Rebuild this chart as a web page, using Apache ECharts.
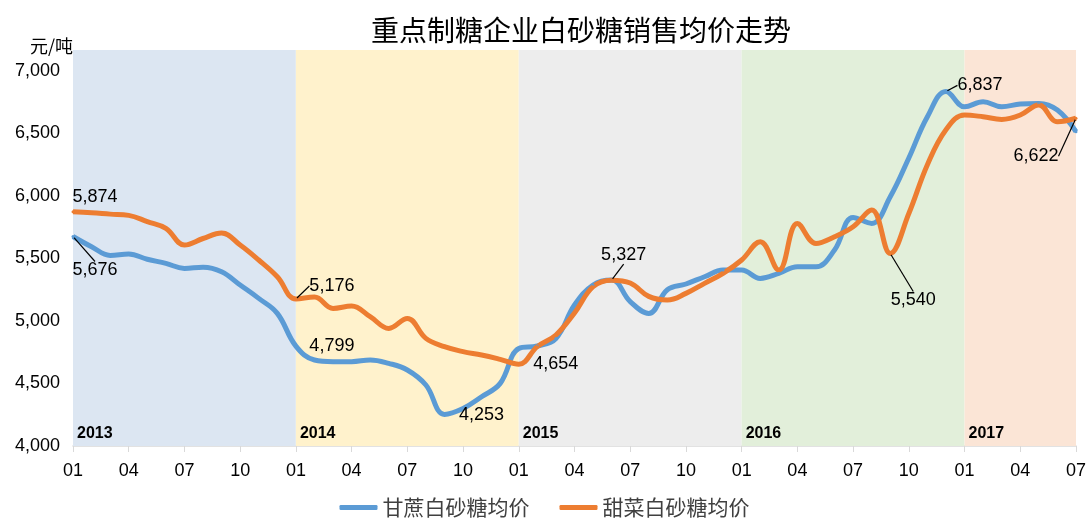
<!DOCTYPE html>
<html>
<head>
<meta charset="utf-8">
<title>重点制糖企业白砂糖销售均价走势</title>
<script src="https://cdn.jsdelivr.net/npm/echarts@6/dist/echarts.min.js"></script>
<style>
  html, body { margin: 0; padding: 0; background: #fff; }
  #chart { width: 1089px; height: 518px; }
</style>
</head>
<body>
<div id="chart"></div>
<script>
// months 2013-01 .. 2017-07
const years = ['2013', '2014', '2015', '2016', '2017'];
const monthLabels = ['01', '02', '03', '04', '05', '06', '07', '08', '09', '10', '11', '12'];
const months = [];
years.forEach(y => {
    const last = y === '2017' ? 7 : 12;
    for (let m = 0; m < last; m++) months.push(y + '-' + monthLabels[m]);
});

// 甘蔗白砂糖均价 (元/吨)
const caneSugar = [
    5676, 5594, 5525, 5536, 5494, 5461, 5421, 5430, 5394, 5288, 5181, 5061,
    4799, 4688, 4675, 4675, 4688, 4661, 4608, 4488, 4253, 4300, 4394, 4501,
    4780, 4800, 4860, 5128, 5288, 5328, 5155, 5061, 5250, 5296, 5354, 5408,
    5408, 5341, 5381, 5434, 5434, 5568, 5829, 5781, 5994, 6304, 6634, 6837,
    6714, 6754, 6714, 6736, 6741, 6688, 6515
];

// 甜菜白砂糖均价 (元/吨)
const beetSugar = [
    5874, 5866, 5855, 5845, 5795, 5741, 5608, 5660, 5704, 5608, 5488, 5354,
    5176, 5192, 5101, 5120, 5035, 4941, 5021, 4861, 4795, 4755, 4728, 4693,
    4654, 4795, 4888, 5064, 5274, 5327, 5304, 5197, 5168, 5221, 5301, 5381,
    5488, 5634, 5408, 5781, 5621, 5674, 5754, 5888, 5540, 5860, 6250, 6530,
    6648, 6634, 6613, 6648, 6728, 6594, 6622
];

// labelled points: data index + label offset from the point
const caneNotes = [
    { index: 0, dx: 22, dy: 34, line: true },
    { index: 12, dx: 36, dy: 0, line: false },
    { index: 20, dx: 37, dy: 1, line: false },
    { index: 47, dx: 34, dy: -6, line: true }
];
const beetNotes = [
    { index: 0, dx: 22, dy: -15, line: false },
    { index: 12, dx: 36, dy: -13, line: true },
    { index: 24, dx: 37, dy: 0, line: false },
    { index: 29, dx: 12, dy: -25, line: true },
    { index: 44, dx: 23, dy: 47, line: true },
    { index: 54, dx: -40, dy: 38, line: true }
];

// background band per year
const bandColors = ['#dce6f2', '#fff2cc', '#ededed', '#e2efda', '#fbe5d6'];

const numFont = '"Liberation Sans Narrow", "Liberation Sans", Arial, sans-serif';
const cjkFont = '"Noto Sans CJK SC", "Noto Sans", sans-serif';

function buildData(values, notes) {
    return values.map((v, i) => {
        const note = notes.find(n => n.index === i);
        if (!note) return v;
        return { value: v, label: { show: true }, labelLine: { show: note.line } };
    });
}

function layoutFor(notes) {
    return function (params) {
        const note = notes.find(n => n.index === params.dataIndex);
        return note ? { dx: note.dx, dy: note.dy } : {};
    };
}

function lineSeries(name, values, notes, color) {
    return {
        name: name,
        type: 'line',
        data: buildData(values, notes),
        smooth: 0.4,
        showSymbol: true,
        showAllSymbol: true,
        symbol: 'circle',
        symbolSize: 3,
        itemStyle: { color: color },
        lineStyle: { color: color, width: 5 },
        z: 3,
        label: {
            show: false,
            position: 'inside',
            color: '#000',
            fontFamily: numFont,
            fontSize: 18,
            formatter: p => Number(p.value).toLocaleString('en-US')
        },
        labelLine: {
            show: false,
            lineStyle: { color: '#000', width: 1.2 }
        },
        labelLayout: layoutFor(notes)
    };
}

const bands = years.map((y, i) => {
    const start = months.indexOf(y + '-01');
    const end = i < years.length - 1 ? months.indexOf(years[i + 1] + '-01') : months.length - 1;
    return [
        {
            xAxis: months[start],
            itemStyle: { color: bandColors[i] },
            label: {
                show: true,
                formatter: y,
                position: 'insideBottomLeft',
                distance: 4,
                color: '#000',
                fontWeight: 'bold',
                fontSize: 16,
                fontFamily: numFont
            }
        },
        { xAxis: months[end] }
    ];
});

const caneSeries = lineSeries('甘蔗白砂糖均价', caneSugar, caneNotes, '#5b9bd5');
caneSeries.markArea = { silent: true, z: 1, data: bands };
const beetSeries = lineSeries('甜菜白砂糖均价', beetSugar, beetNotes, '#ed7d31');

const chart = echarts.init(document.getElementById('chart'), null, { renderer: 'canvas' });

chart.setOption({
    animation: false,
    title: {
        text: '重点制糖企业白砂糖销售均价走势',
        left: 576,
        textAlign: 'center',
        top: 11,
        textStyle: { fontFamily: cjkFont, fontSize: 28, fontWeight: 'normal', color: '#000' }
    },
    legend: {
        bottom: 0,
        left: 'center',
        padding: 0,
        icon: 'roundRect',
        itemWidth: 38,
        itemHeight: 5,
        itemGap: 30,
        textStyle: { fontFamily: cjkFont, fontSize: 21, color: '#404040' },
        data: ['甘蔗白砂糖均价', '甜菜白砂糖均价']
    },
    grid: { left: 73, right: 9, top: 50, bottom: 72 },
    xAxis: {
        type: 'category',
        data: months,
        boundaryGap: false,
        axisLine: { lineStyle: { color: '#d9d9d9', width: 1.5 } },
        axisTick: { show: true, interval: 2, length: 6, lineStyle: { color: '#d9d9d9' } },
        axisLabel: {
            interval: 2,
            margin: 16,
            color: '#000',
            fontFamily: numFont,
            fontSize: 18,
            formatter: v => v.slice(5)
        },
        splitLine: { show: false }
    },
    yAxis: {
        type: 'value',
        min: 4000,
        max: 7168,
        interval: 500,
        name: '元/吨',
        nameLocation: 'end',
        nameGap: 4,
        nameTextStyle: { align: 'right', verticalAlign: 'middle', fontFamily: cjkFont, fontSize: 18, color: '#000' },
        axisLine: { show: false },
        axisTick: { show: false },
        splitLine: { show: false },
        axisLabel: {
            showMaxLabel: false,
            margin: 13,
            color: '#000',
            fontFamily: numFont,
            fontSize: 18,
            formatter: v => (v % 500 === 0 ? v.toLocaleString('en-US') : '')
        }
    },
    series: [caneSeries, beetSeries]
});

window.addEventListener('resize', () => chart.resize());
</script>
</body>
</html>
